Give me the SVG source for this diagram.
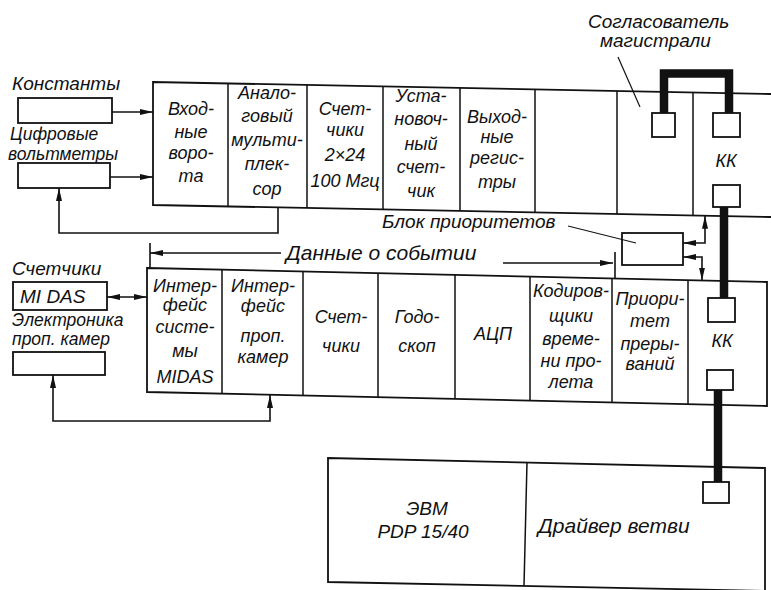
<svg xmlns="http://www.w3.org/2000/svg" width="771" height="590" viewBox="0 0 771 590">
<style>
.ln{fill:none;stroke:#111;stroke-width:1.6}
.bx{fill:#fff;stroke:#111;stroke-width:1.8}
.dv{fill:none;stroke:#111;stroke-width:1.5}
.bus{fill:none;stroke:#111;stroke-width:8.5}
.sq{fill:#fff;stroke:#111;stroke-width:1.8}
text{font-family:"Liberation Sans","DejaVu Sans",sans-serif;font-style:italic;fill:#111}
.m{font-size:18px;text-anchor:middle}
.l{font-size:19px}
.s{font-size:17.5px}
</style>
<defs>
<marker id="ah" markerUnits="userSpaceOnUse" markerWidth="14" markerHeight="8" refX="13" refY="4" orient="auto-start-reverse">
<path d="M0,1 L13,4 L0,7 z" fill="#111"/>
</marker>
</defs>
<rect width="771" height="590" fill="#fff"/>

<!-- left sources -->
<g id="const-src">
<text class="l" x="12" y="90">Константы</text>
<rect class="bx" x="18" y="98" width="94" height="25"/>
</g>
<g id="volt-src">
<text class="s" x="10" y="140">Цифровые</text>
<text class="s" x="8" y="160">вольтметры</text>
<rect class="bx" x="18" y="163" width="92" height="25"/>
</g>
<g id="midas-src">
<text class="l" x="12" y="275">Счетчики</text>
<rect class="bx" x="13" y="282" width="94" height="28"/>
<text class="l" x="20" y="303">MI DAS</text>
</g>
<g id="propcam-src">
<text class="s" x="12" y="326">Электроника</text>
<text class="s" x="12" y="345">проп. камер</text>
<rect class="bx" x="13" y="352" width="92" height="23"/>
</g>

<!-- top crate -->
<g id="crate-top">
<path class="bx" d="M771,94 L153,82 L153,205 L771,217"/>
<path class="dv" d="M228,83.5V206.5 M307,85V208 M383,86.5V209.5 M460,88V211 M535,89.4V212.4 M617,91V214 M693,92.5V215.5"/>
<g id="m-input">
<text class="m"><tspan x="191" y="115">Вход-</tspan><tspan x="191" y="138">ные</tspan><tspan x="191" y="159">воро-</tspan><tspan x="191" y="182">та</tspan></text>
</g>
<g id="m-mux">
<text class="m"><tspan x="267" y="99">Анало-</tspan><tspan x="267" y="122">говый</tspan><tspan x="267" y="146">мульти-</tspan><tspan x="267" y="170">плек-</tspan><tspan x="267" y="195">сор</tspan></text>
</g>
<g id="m-counters">
<text class="m"><tspan x="345" y="115">Счет-</tspan><tspan x="345" y="136">чики</tspan><tspan x="345" y="161">2×24</tspan><tspan x="345" y="187">100 Мгц</tspan></text>
</g>
<g id="m-preset">
<text class="m"><tspan x="421" y="102">Уста-</tspan><tspan x="421" y="125">новоч-</tspan><tspan x="421" y="150">ный</tspan><tspan x="421" y="173">счет-</tspan><tspan x="421" y="197">чик</tspan></text>
</g>
<g id="m-output">
<text class="m"><tspan x="497" y="123">Выход-</tspan><tspan x="497" y="143">ные</tspan><tspan x="497" y="164">регис-</tspan><tspan x="497" y="188">тры</tspan></text>
</g>
<g id="m-bus-adapter">
<rect class="sq" x="652" y="113" width="23" height="24"/>
</g>
<g id="m-kk-top">
<rect class="sq" x="713" y="113" width="27" height="24"/>
<text class="m" x="726" y="167">КК</text>
<rect class="sq" x="713" y="185" width="27" height="22"/>
</g>
</g>

<!-- bottom crate -->
<g id="crate-bottom">
<path class="bx" d="M147,268 L767,282 L767,406 L147,392 Z"/>
<path class="dv" d="M222,269.7V393.7 M303,271.5V395.5 M378,273.2V397.2 M455,275V399 M530,276.7V400.7 M612,278.6V402.6 M688,280.2V404.2"/>
<g id="m-midas-if">
<text class="m"><tspan x="185" y="292">Интер-</tspan><tspan x="185" y="311">фейс</tspan><tspan x="185" y="333">систе-</tspan><tspan x="185" y="357">мы</tspan><tspan x="185" y="383">MIDAS</tspan></text>
</g>
<g id="m-pc-if">
<text class="m"><tspan x="263" y="292">Интер-</tspan><tspan x="263" y="312">фейс</tspan><tspan x="263" y="342">проп.</tspan><tspan x="263" y="363">камер</tspan></text>
</g>
<g id="m-scalers">
<text class="m"><tspan x="341" y="323">Счет-</tspan><tspan x="341" y="352">чики</tspan></text>
</g>
<g id="m-hodo">
<text class="m"><tspan x="417" y="323">Годо-</tspan><tspan x="417" y="352">скоп</tspan></text>
</g>
<g id="m-adc">
<text class="m" x="493" y="340">АЦП</text>
</g>
<g id="m-tdc">
<text class="m"><tspan x="571" y="297">Кодиров-</tspan><tspan x="571" y="322">щики</tspan><tspan x="571" y="345">време-</tspan><tspan x="571" y="367">ни про-</tspan><tspan x="571" y="388">лета</tspan></text>
</g>
<g id="m-int-prio">
<text class="m"><tspan x="650" y="305">Приори-</tspan><tspan x="650" y="327">тет</tspan><tspan x="650" y="350">преры-</tspan><tspan x="650" y="370">ваний</tspan></text>
</g>
<g id="m-kk-bottom">
<rect class="sq" x="708" y="298" width="27" height="24"/>
<text class="m" x="722" y="347">КК</text>
<rect class="sq" x="707" y="370" width="26" height="20"/>
</g>
</g>

<!-- priority block -->
<g id="priority-block">
<rect class="bx" x="622" y="233" width="61" height="32"/>
<text class="l" x="382" y="228">Блок приоритетов</text>
</g>

<!-- computer -->
<g id="computer">
<path class="bx" d="M771,591 L328,582 L328,458 L765,468 L765,591"/>
<path class="dv" d="M527,462 L524,586"/>
<text style="font-size:19px;text-anchor:middle" x="427" y="515">ЭВМ</text>
<text style="font-size:19px;text-anchor:middle" x="423" y="538">PDP 15/40</text>
<text style="font-size:21px" x="538" y="533">Драйвер ветви</text>
<rect class="sq" x="703" y="482" width="26" height="21"/>
</g>

<!-- labels -->
<g id="bus-adapter-label">
<text class="l" x="588" y="28">Согласователь</text>
<text class="l" x="600" y="47">магистрали</text>
</g>
<g id="event-data-label">
<text style="font-size:21px" x="286" y="260">Данные о событии</text>
</g>

<!-- connectors -->
<g id="connectors">
<path class="bus" d="M664,113 V73.5 H729 V113"/>
<path class="bus" d="M724,207 V298"/>
<path class="bus" d="M718,390 V482"/>
<path class="ln" d="M112,112 H153" marker-end="url(#ah)"/>
<path class="ln" d="M110,177 H153" marker-end="url(#ah)"/>
<path class="ln" d="M278,207.4 V233 H59 V188" marker-end="url(#ah)"/>
<path class="ln" d="M107,297 H147" marker-start="url(#ah)" marker-end="url(#ah)"/>
<path class="ln" d="M53,375 V421 H270 V395" marker-start="url(#ah)" marker-end="url(#ah)"/>
<path class="ln" d="M281,253 H150" marker-end="url(#ah)"/>
<path class="ln" d="M150,243 V268"/>
<path class="ln" d="M503,263 H613" marker-end="url(#ah)"/>
<path class="ln" d="M615,252 V279"/>
<path class="ln" d="M683,243 H705 V215.7" marker-start="url(#ah)" marker-end="url(#ah)"/>
<path class="ln" d="M683,257 H702 V280.5" marker-start="url(#ah)" marker-end="url(#ah)"/>
<path class="ln" style="stroke-width:1.2" d="M568,226 L636,243"/>
<path class="ln" style="stroke-width:1.2" d="M618,57 L640,107"/>
</g>
</svg>
